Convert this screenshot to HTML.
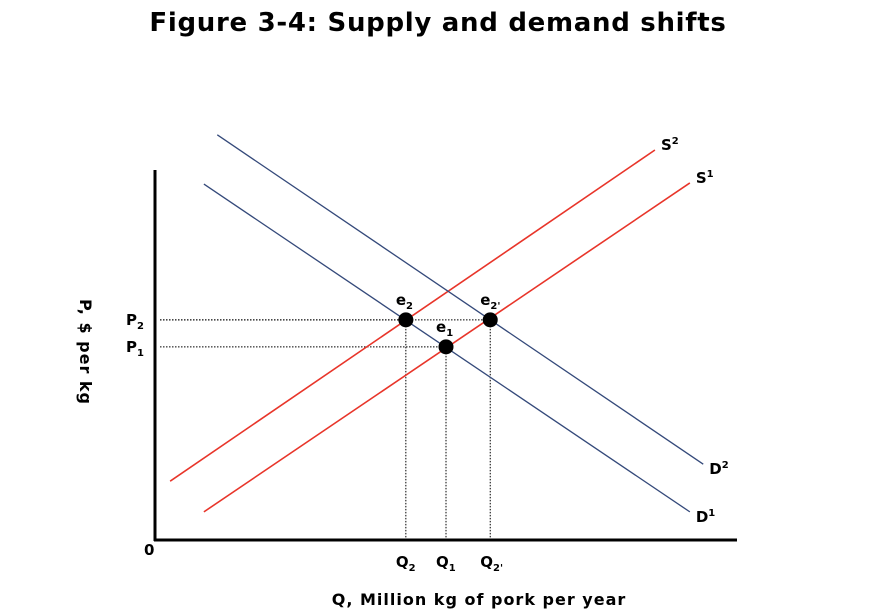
<!DOCTYPE html>
<html><head><meta charset="utf-8">
<style>
body{margin:0;background:#fff;}
svg{display:block;font-family:"DejaVu Sans","Liberation Sans",sans-serif;}
</style></head>
<body>
<svg id="chart" width="893" height="613" viewBox="0 0 893 613">
<text x="438" y="31" text-anchor="middle" font-size="26" font-weight="bold" letter-spacing="0.7">Figure 3-4: Supply and demand shifts</text>
<g id="plot"></g>
</svg>
<script>
const lineNames = ["S1","S2","D1","D2"];
const lineX0 = [8.4, 2.6, 8.4, 10.7];
const lineY0 = [7.6, 15.9, 96.2, 109.5];
const lineX1 = [91.9, 85.9, 91.9, 94.2];
const lineY1 = [96.5, 105.4, 7.6, 20.5];
const pointNames = ["e2","e1","e2'"];
const pointX = [43.1, 50, 57.6];
const pointY = [59.5, 52.2, 59.5];
const xTickLabels = ["Q2","Q1","Q2'"];
const yTickLabels = ["P2","P1"];

const X = v => 155 + v * 5.82;
const Y = v => 540 - v * 3.7;
const NS = "http://www.w3.org/2000/svg";
const g = document.getElementById("plot");
function mk(tag, attrs, name){
  const e = document.createElementNS(NS, tag);
  for (const k in attrs) e.setAttribute(k, attrs[k]);
  
  
  g.appendChild(e); return e;
}
mk("line",{x1:155,y1:170,x2:155,y2:541,stroke:"#000","stroke-width":3},"y-axis");
mk("line",{x1:154,y1:540,x2:737,y2:540,stroke:"#000","stroke-width":3},"x-axis");
pointNames.forEach((n,i)=>{
  mk("line",{x1:160,y1:Y(pointY[i]),x2:X(pointX[i]),y2:Y(pointY[i]),stroke:"#000","stroke-width":1,"stroke-dasharray":"1.5,1.5"},"guide-h-"+i);
  mk("line",{x1:X(pointX[i]),y1:Y(pointY[i]),x2:X(pointX[i]),y2:539,stroke:"#000","stroke-width":1,"stroke-dasharray":"1.5,1.5"},"guide-v-"+i);
});
const colors = {S1:"#e8352a",S2:"#e8352a",D1:"#34497a",D2:"#34497a"};
lineNames.forEach((n,i)=>{
  mk("line",{x1:X(lineX0[i]),y1:Y(lineY0[i]),x2:X(lineX1[i]),y2:Y(lineY1[i]),stroke:colors[n],"stroke-width":n[0]==="S"?1.6:1.3},"curve-"+n.toLowerCase());
  const t = mk("text",{x:X(lineX1[i])+6,y:Y(lineY1[i])+(n[0]==="S"?0:10),"font-size":15,"font-weight":"bold"},"label-"+n.toLowerCase());
  t.innerHTML = n[0]+'<tspan dy="-6" font-size="10">'+n[1]+'</tspan>';
});
pointNames.forEach((n,i)=>{
  mk("circle",{cx:X(pointX[i]),cy:Y(pointY[i]),r:7.5,fill:"#000"},"point-"+i);
  const t = mk("text",{x:X(pointX[i])-10,y:Y(pointY[i])-15,"font-size":15,"font-weight":"bold"},"point-label-"+i);
  t.innerHTML = 'e<tspan dy="4" font-size="10">'+n.slice(1)+'</tspan>';
  const q = mk("text",{x:X(pointX[i])-10,y:567,"font-size":15,"font-weight":"bold"},"x-tick-"+i);
  q.innerHTML = 'Q<tspan dy="4" font-size="10">'+xTickLabels[i].slice(1)+'</tspan>';
});
yTickLabels.forEach((l,i)=>{
  const t = mk("text",{x:126,y:Y(pointY[i])+5,"font-size":15,"font-weight":"bold"},"y-tick-"+i);
  t.innerHTML = 'P<tspan dy="4" font-size="10">'+l.slice(1)+'</tspan>';
});
mk("text",{x:144,y:555,"font-size":15,"font-weight":"bold"},"origin-label").textContent="0";
mk("text",{x:479,y:605,"font-size":16,"font-weight":"bold","letter-spacing":"1","text-anchor":"middle"},"x-axis-title").textContent="Q, Million kg of pork per year";
mk("text",{x:0,y:0,"font-size":16,"font-weight":"bold","letter-spacing":"1","text-anchor":"middle",transform:"translate(80,352) rotate(90)"},"y-axis-title").textContent="P, $ per kg";
</script>
</body></html>
